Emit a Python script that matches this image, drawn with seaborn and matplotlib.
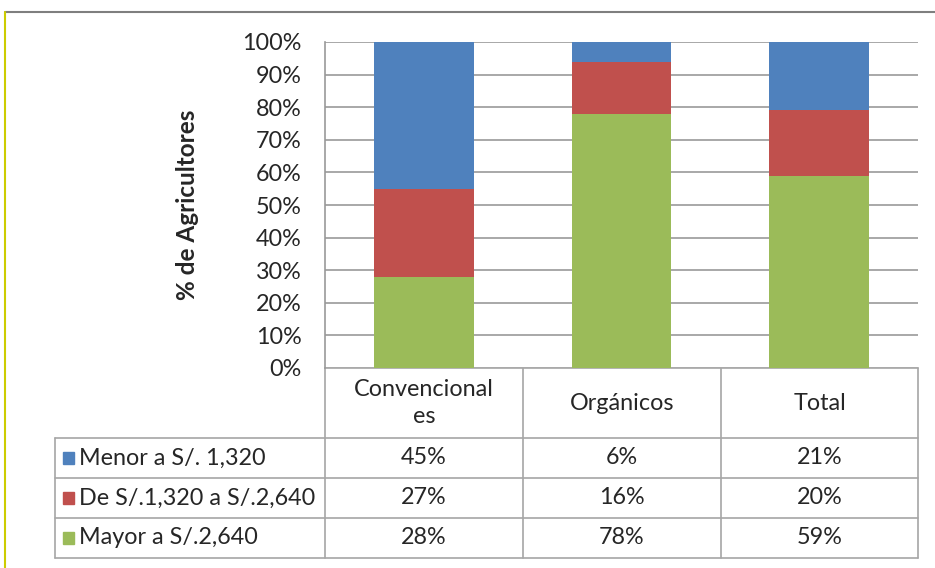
import matplotlib
matplotlib.use("Agg")
import matplotlib.pyplot as plt
import seaborn as sns
import pandas as pd
import numpy as np

categories = ["Convencionales", "Orgánicos", "Total"]
header_labels = ["Convencional\nes", "Orgánicos", "Total"]
series_names = ["Menor a S/. 1,320", "De S/.1,320 a S/.2,640", "Mayor a S/.2,640"]
menor = [45, 6, 21]
medio = [27, 16, 20]
mayor = [28, 78, 59]
colors = ["#4F81BD", "#C0504D", "#9BBB59"]
yticks = [0, 10, 20, 30, 40, 50, 60, 70, 80, 90, 100]

sns.set_theme(style="white")
plt.rcParams["font.family"] = ["Lato", "DejaVu Sans"]

W, H = 935, 568
fig = plt.figure(figsize=(W / 100, H / 100), dpi=100)

# overlay axes in pixel coordinates for frame and table
ov = fig.add_axes([0, 0, 1, 1])
ov.set_xlim(0, W)
ov.set_ylim(H, 0)
ov.axis("off")

L, R, T, B = 325, 918, 42, 368
ax = fig.add_axes([L / W, 1 - B / H, (R - L) / W, (B - T) / H])

# stacked: draw cumulative totals from top series downward
df = pd.DataFrame({"cat": categories, "green": mayor, "red": medio, "blue": menor})
df["c_green"] = df["green"]
df["c_red"] = df["green"] + df["red"]
df["c_blue"] = df["c_red"] + df["blue"]
for col, c in [("c_blue", colors[0]), ("c_red", colors[1]), ("c_green", colors[2])]:
    sns.barplot(data=df, x="cat", y=col, color=c, width=0.505, ax=ax,
                saturation=1, edgecolor="none", zorder=3)

FS = 16.8
TXT = "#262626"
ax.set_ylim(0, 100)
ax.set_xlim(-0.5, 2.5)
ax.set_yticks(yticks)
ax.set_yticklabels([f"{v}%" for v in yticks], fontsize=FS, color=TXT)
ax.set_xticks([])
ax.set_xlabel("")
ax.set_ylabel("% de Agricultores", fontsize=17.5, fontweight="bold", color=TXT, labelpad=31)
ax.yaxis.grid(True, color="#999999", linewidth=1.2, zorder=0)
for s in ["top", "right", "bottom"]:
    ax.spines[s].set_visible(False)
ax.spines["left"].set_color("#999999")
ax.spines["left"].set_linewidth(1.2)
ax.tick_params(axis="y", length=0, pad=17)

# outer frame
ov.plot([5, W], [12, 12], color="#7f7f7f", lw=1.5)
ov.plot([5, 5], [12, H], color="#cccc00", lw=1.5)

# data table
gc = "#a6a6a6"
col_edges = [L, 523, 721, R]
row_edges = [438, 478, 518, 558]
ov.plot([L, R], [B, B], color=gc, lw=1.2)
for x in col_edges:
    ov.plot([x, x], [B, row_edges[-1]], color=gc, lw=1.2)
ov.plot([55, 55], [row_edges[0], row_edges[-1]], color=gc, lw=1.2)
for y in row_edges:
    ov.plot([55, R], [y, y], color=gc, lw=1.2)
centers = [(col_edges[i] + col_edges[i + 1]) / 2 for i in range(3)]
for cx, lab in zip(centers, header_labels):
    ov.text(cx, 403, lab, ha="center", va="center", fontsize=FS, color=TXT,
            linespacing=1.35)
rows = [menor, medio, mayor]
for i, (name, vals, c) in enumerate(zip(series_names, rows, colors)):
    yc = (row_edges[i] + row_edges[i + 1]) / 2
    ov.add_patch(plt.Rectangle((63, yc - 6), 11, 12, color=c))
    ov.text(79, yc, name, ha="left", va="center", fontsize=FS, color=TXT)
    for cx, v in zip(centers, vals):
        ov.text(cx, yc, f"{v}%", ha="center", va="center", fontsize=FS, color=TXT)

fig.savefig("out.png", dpi=100, facecolor="white")
